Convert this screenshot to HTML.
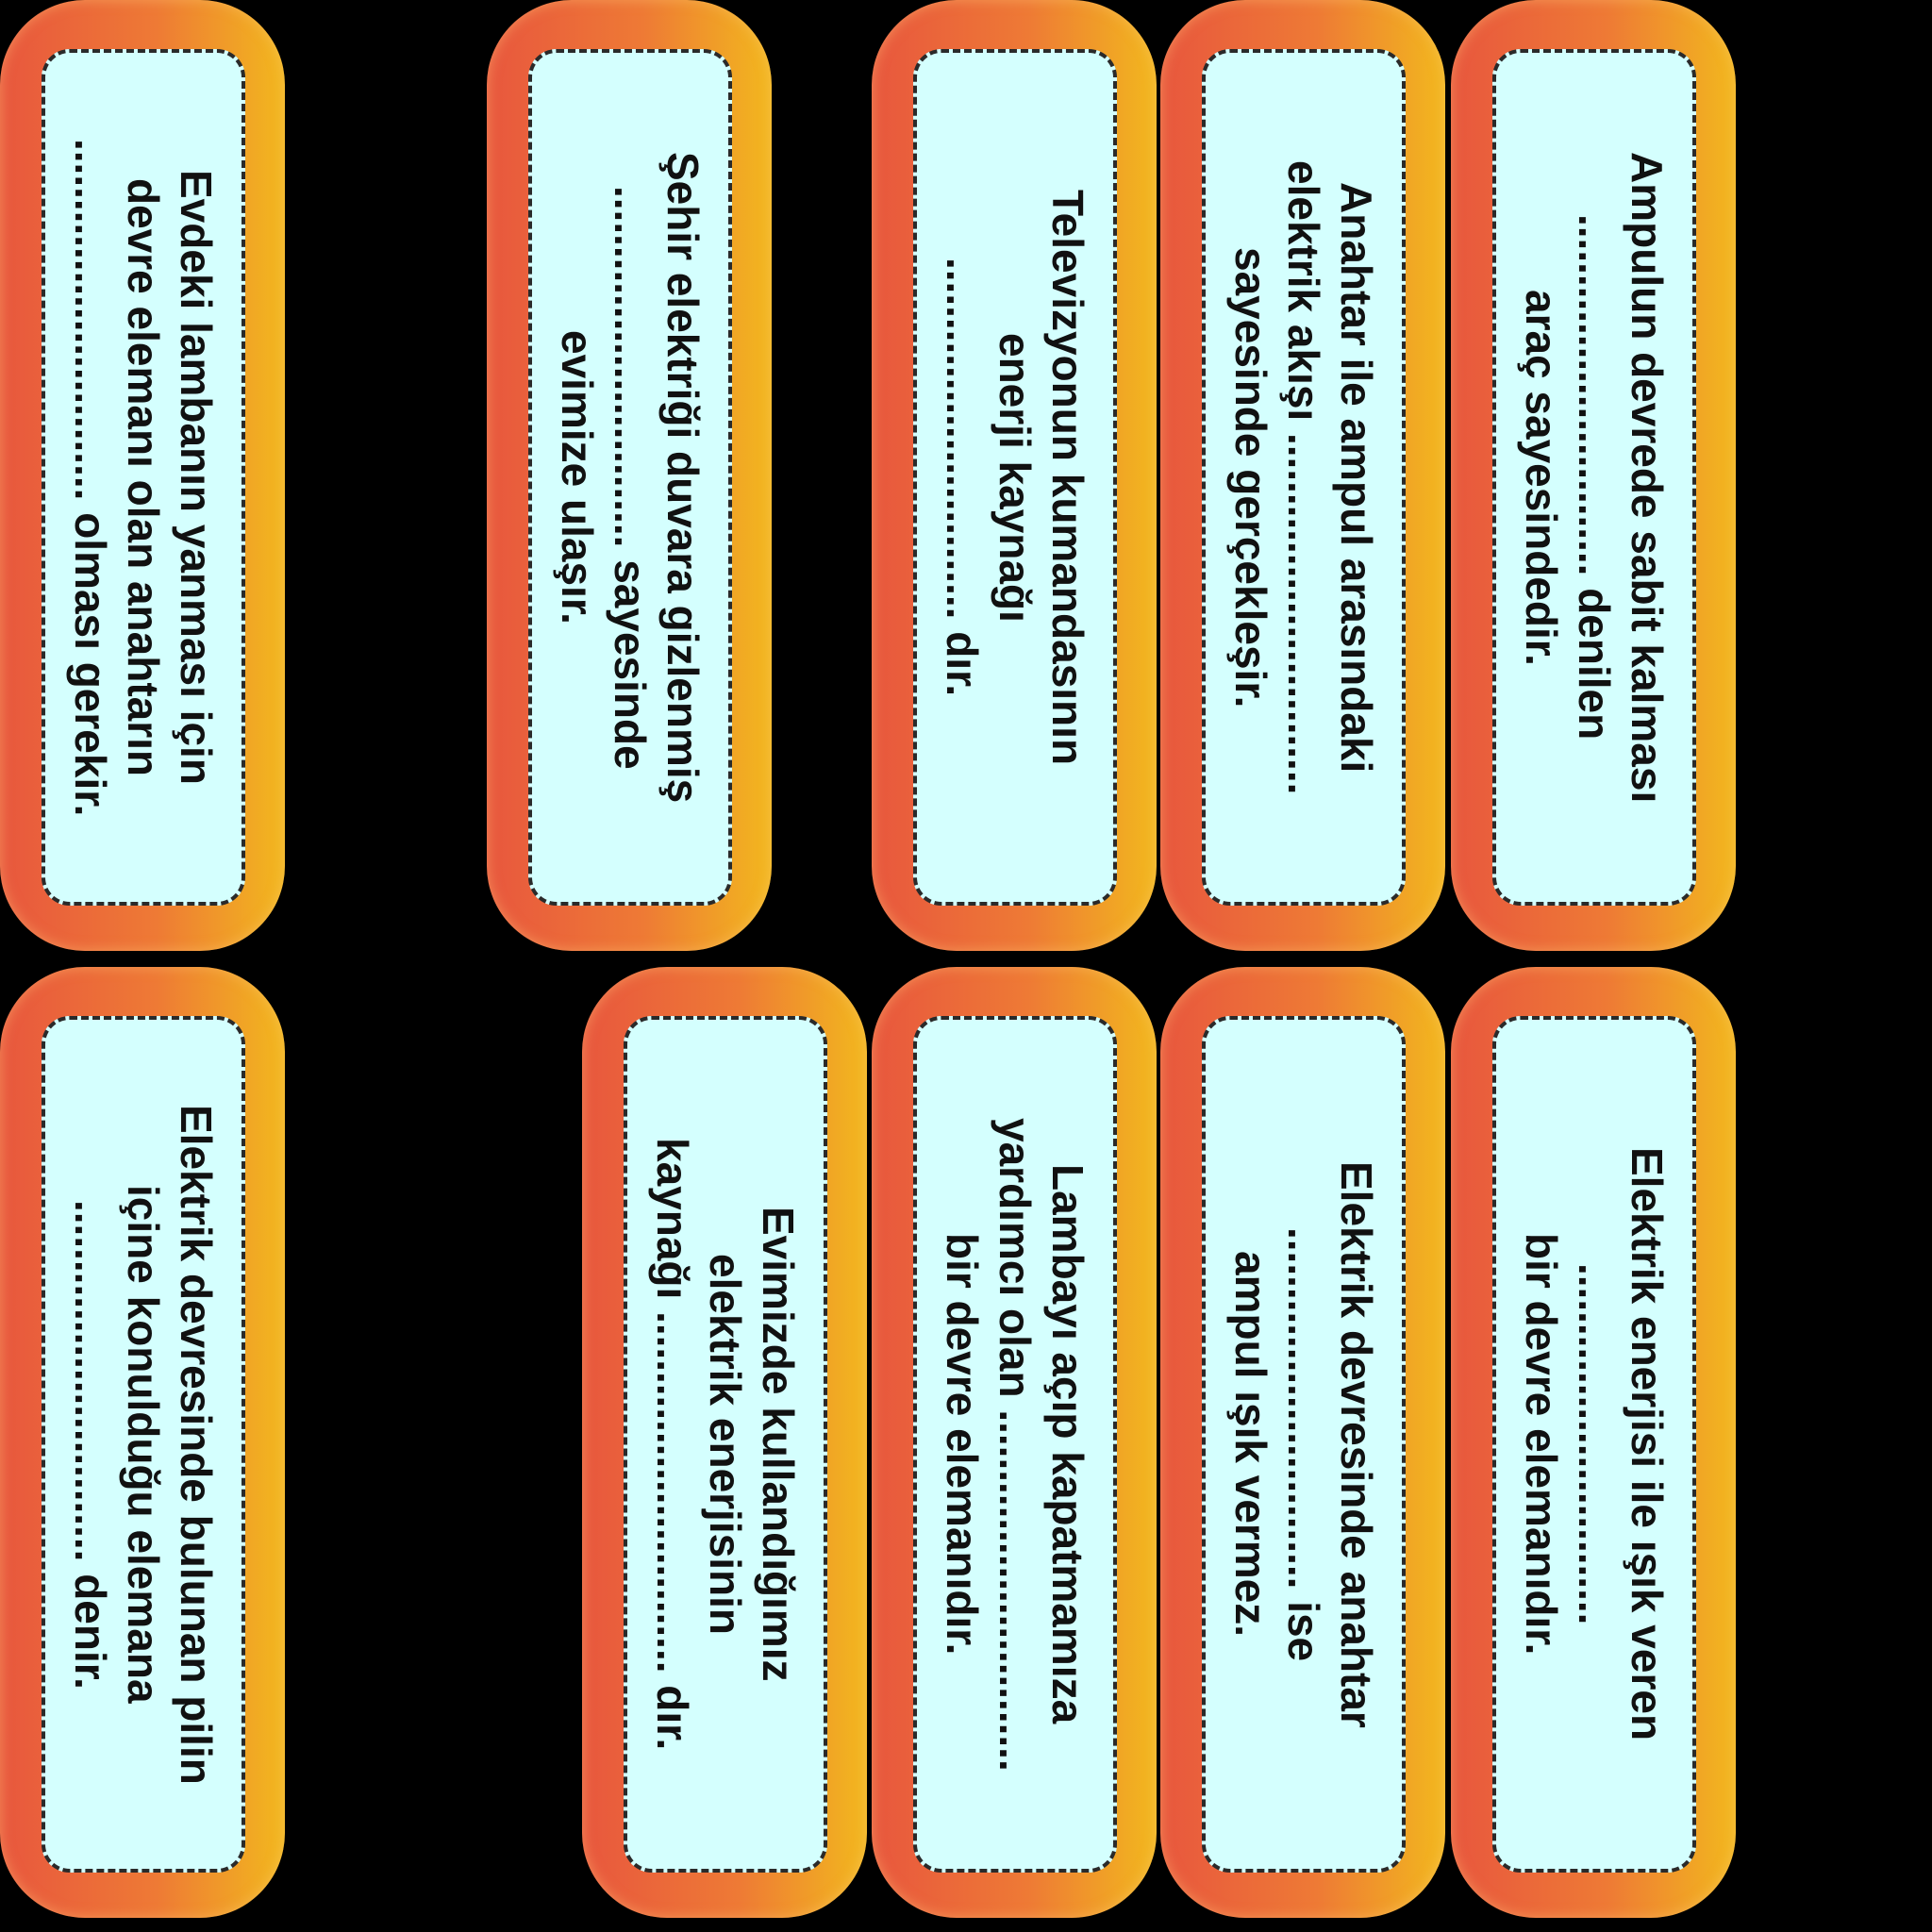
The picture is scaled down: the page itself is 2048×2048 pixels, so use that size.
<!DOCTYPE html>
<html><head><meta charset="utf-8"><style>
html,body{margin:0;padding:0;background:#000;}
body{width:2048px;height:2048px;position:relative;overflow:hidden;}
.card{position:absolute;width:302px;height:1008px;border-radius:90px;
background:linear-gradient(90deg,#e8573e 0%,#ee7a35 55%,#f2b81e 100%);
box-shadow:inset 0 0 14px rgba(255,200,120,0.5);}
.inner{position:absolute;left:44px;right:42px;top:52px;bottom:48px;background:#d4fffe;
border:4px dashed #2a2a2a;border-radius:30px;display:flex;align-items:center;justify-content:center;}
.t{writing-mode:vertical-rl;text-align:center;font-family:"Liberation Sans",sans-serif;font-size:46px;
line-height:56px;color:#111;font-weight:bold;white-space:nowrap;}
</style></head><body>

<div class="card" style="left:0;top:0"><div class="inner"><div class="t">Evdeki lambanın yanması için<br>devre elemanı olan anahtarın<br>.............................. olması gerekir.</div></div></div>
<div class="card" style="left:516px;top:0"><div class="inner"><div class="t">Şehir elektriği duvara gizlenmiş<br>.............................. sayesinde<br>evimize ulaşır.</div></div></div>
<div class="card" style="left:924px;top:0"><div class="inner"><div class="t">Televizyonun kumandasının<br>enerji kaynağı<br>.............................. dır.</div></div></div>
<div class="card" style="left:1230px;top:0"><div class="inner"><div class="t">Anahtar ile ampul arasındaki<br>elektrik akışı ..............................<br>sayesinde gerçekleşir.</div></div></div>
<div class="card" style="left:1538px;top:0"><div class="inner"><div class="t">Ampulun devrede sabit kalması<br>.............................. denilen<br>araç sayesindedir.</div></div></div>

<div class="card" style="left:0;top:1025px"><div class="inner"><div class="t">Elektrik devresinde bulunan pilin<br>içine konulduğu elemana<br>.............................. denir.</div></div></div>
<div class="card" style="left:617px;top:1025px"><div class="inner"><div class="t">Evimizde kullandığımız<br>elektrik enerjisinin<br>kaynağı .............................. dır.</div></div></div>
<div class="card" style="left:924px;top:1025px"><div class="inner"><div class="t">Lambayı açıp kapatmamıza<br>yardımcı olan ..............................<br>bir devre elemanıdır.</div></div></div>
<div class="card" style="left:1230px;top:1025px"><div class="inner"><div class="t">Elektrik devresinde anahtar<br>.............................. ise<br>ampul ışık vermez.</div></div></div>
<div class="card" style="left:1538px;top:1025px"><div class="inner"><div class="t">Elektrik enerjisi ile ışık veren<br>..............................<br>bir devre elemanıdır.</div></div></div>

</body></html>
